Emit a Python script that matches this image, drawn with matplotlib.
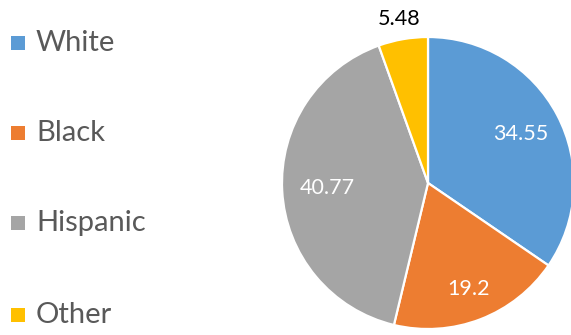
import numpy as np
import matplotlib
matplotlib.use("Agg")
import matplotlib.pyplot as plt

# Share of population by group
groups = ["White", "Black", "Hispanic", "Other"]
shares = [34.55, 19.2, 40.77, 5.48]
colors = ["#5B9BD5", "#ED7D31", "#A5A5A5", "#FFC000"]
value_colors = ["white", "white", "white", "black"]
label_dist = [0.72, 0.78, 0.69, 1.14]

plt.rcParams["font.family"] = ["Lato", "DejaVu Sans"]

fig = plt.figure(figsize=(5.71, 3.35), dpi=100)
ax = fig.add_axes([0, 0, 1, 1])

cx, cy, r = 428, 152, 146
wedges, _ = ax.pie(shares, colors=colors, startangle=90, counterclock=False,
                   center=(cx, cy), radius=r, frame=True,
                   wedgeprops=dict(edgecolor="white", linewidth=1.6))
ax.set_xlim(0, 571)
ax.set_ylim(0, 335)
ax.set_aspect("equal")
ax.axis("off")

for w, val, tc, d in zip(wedges, shares, value_colors, label_dist):
    mid = np.deg2rad((w.theta1 + w.theta2) / 2)
    x = cx + d * r * np.cos(mid)
    y = cy + d * r * np.sin(mid)
    ax.text(x, y, f"{val:g}", color=tc, fontsize=15.5, ha="center", va="center")

# legend column on the left
legend_y = [292, 202, 112, 20]
for name, col, y in zip(groups, colors, legend_y):
    ax.scatter([18], [y], marker="s", s=110, color=col, linewidths=0)
    ax.text(36, y, name, color="#595959", fontsize=21, ha="left", va="center")

fig.savefig("out.png", dpi=100)
